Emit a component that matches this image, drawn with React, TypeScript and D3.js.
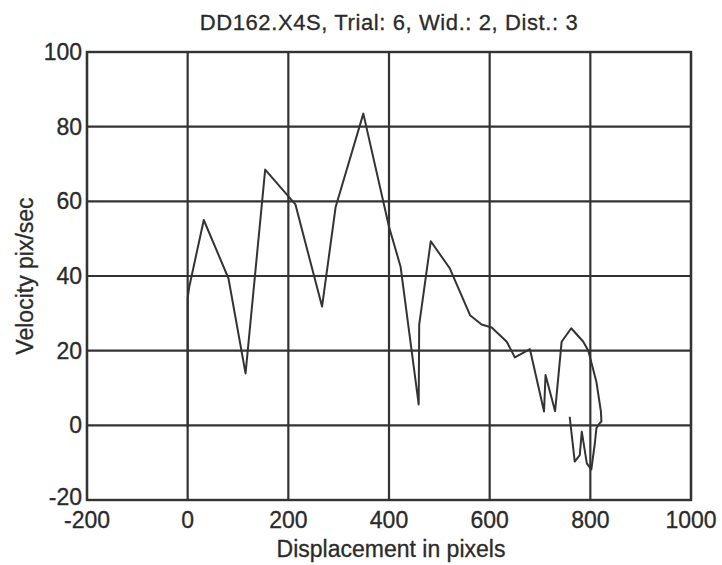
import React from "react";
import * as d3 from "d3";

const xTicks = [-200, 0, 200, 400, 600, 800, 1000];
const yTicks = [-20, 0, 20, 40, 60, 80, 100];

const displacement = [
  0, 0, 3, 32, 81, 115, 154, 214, 267, 294, 349, 400, 423, 459, 460, 483,
  521, 561, 584, 604, 634, 650, 680, 708, 711, 730, 743, 762, 786, 796, 812,
  821, 822, 818, 812, 809, 802, 793, 783, 779, 769, 759,
];
const velocity = [
  -0.5, 34, 37, 55, 39.4, 13.9, 68.5, 59.2, 31.8, 58.5, 83.5, 53.2, 42.5, 5.6,
  27, 49.3, 42, 29.5, 27, 26.2, 22.4, 18.2, 20.4, 3.7, 13.5, 3.8, 22.4, 26, 22.4,
  20, 11.7, 3.7, 1, 0.5, -0.8, -4.8, -11.8, -10.2, -1.7, -8, -9.7, 2.3,
];

const W = 722;
const H = 565;
const M = { left: 87, right: 691, top: 52, bottom: 500 };

export default function App() {
  const x = d3.scaleLinear().domain([-200, 1000]).range([M.left, M.right]);
  const y = d3.scaleLinear().domain([-20, 100]).range([M.bottom, M.top]);
  const pts = displacement.map((d, i) => [d, velocity[i]] as [number, number]);
  const line = d3
    .line<[number, number]>()
    .x((d) => x(d[0]))
    .y((d) => y(d[1]));
  const gridColor = "#333";
  const textColor = "#2a2a2a";
  const font = "'Liberation Sans', Arial, sans-serif";
  const txtStroke = { stroke: textColor, strokeWidth: 0.3 };
  return (
    <svg
      width={W}
      height={H}
      style={{ position: "absolute", left: 0, top: 0, background: "#fff" }}
      fontFamily={font}
    >
      <rect x={0} y={0} width={W} height={H} fill="#fff" />
      <text x={389} y={30} textAnchor="middle" fontSize={22} letterSpacing={0.6} fill={textColor} {...txtStroke}>
        DD162.X4S, Trial: 6, Wid.: 2, Dist.: 3
      </text>
      {xTicks.map((t) => (
        <line
          key={"gx" + t}
          x1={x(t)}
          x2={x(t)}
          y1={M.top}
          y2={M.bottom}
          stroke={gridColor}
          strokeWidth={2.2}
        />
      ))}
      {yTicks.map((t) => (
        <line
          key={"gy" + t}
          x1={M.left}
          x2={M.right}
          y1={y(t)}
          y2={y(t)}
          stroke={gridColor}
          strokeWidth={2.2}
        />
      ))}
      <rect
        x={M.left}
        y={M.top}
        width={M.right - M.left}
        height={M.bottom - M.top}
        fill="none"
        stroke={gridColor}
        strokeWidth={2.4}
      />
      <path d={line(pts) || ""} fill="none" stroke="#333" strokeWidth={2} strokeLinejoin="round" />
      {yTicks.map((t) => (
        <text
          key={"ly" + t}
          x={M.left - 5}
          y={y(t) + (t === -20 ? 5 : 8)}
          textAnchor="end"
          fontSize={23}
          fill={textColor}
          {...txtStroke}
        >
          {t}
        </text>
      ))}
      {xTicks.map((t) => (
        <text
          key={"lx" + t}
          x={x(t)}
          y={M.bottom + 28}
          textAnchor="middle"
          fontSize={23}
          fill={textColor}
          {...txtStroke}
        >
          {t}
        </text>
      ))}
      <text x={391} y={557} textAnchor="middle" fontSize={23} fill={textColor} {...txtStroke}>
        Displacement in pixels
      </text>
      <text
        transform={`translate(33, ${276}) rotate(-90)`}
        textAnchor="middle"
        fontSize={23}
        fill={textColor}
        {...txtStroke}
      >
        Velocity pix/sec
      </text>
    </svg>
  );
}
